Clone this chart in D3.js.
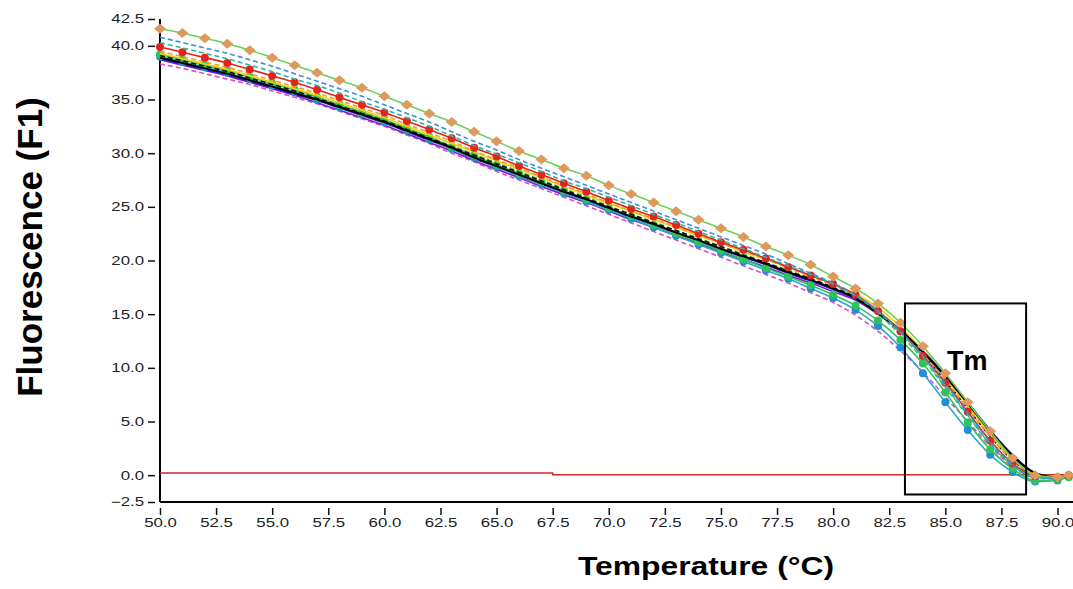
<!DOCTYPE html>
<meta charset="utf-8">
<script src="https://d3js.org/d3.v7.min.js"></script>
<style>
  body { margin: 0; background: #fff; }
  text { font-family: Arial, "Liberation Sans", sans-serif; }
</style>
<div id="chart"></div>
<script>

// temperatures (degC) where each melt curve was read
var temps = [50,51,52,53,54,55,56,57,58,59,60,61,62,63,64,65,66,67,68,69,70,
             71,72,73,74,75,76,77,78,79,80,81,82,83,84,85,86,87,88,89,90,90.5];

// fluorescence (F1) per sample
var orangeDiamonds = [41.6,41.2,40.7,40.2,39.6,38.9,38.2,37.5,36.8,36.1,35.3,34.5,33.7,32.9,32.0,31.1,30.2,29.4,28.6,27.9,
  27.0,26.2,25.4,24.6,23.8,23.0,22.2,21.3,20.5,19.6,18.5,17.4,16.0,14.2,12.0,9.5,6.8,4.1,1.6,0.0,-0.2,0.0];
var blueDashed = [40.8,40.3,39.8,39.3,38.7,38.1,37.4,36.7,36.0,35.3,34.5,33.7,32.9,32.0,31.1,30.3,29.4,28.6,27.8,27.0,
  26.2,25.4,24.6,23.8,23.0,22.2,21.4,20.6,19.7,18.8,17.9,16.8,15.3,13.4,11.1,8.5,5.8,3.1,1.0,-0.2,-0.3,-0.1];
var tealDashed = [40.3,39.8,39.3,38.8,38.2,37.6,36.9,36.3,35.6,34.8,34.1,33.3,32.5,31.6,30.7,29.9,29.1,28.3,27.4,26.7,
  25.9,25.1,24.3,23.5,22.7,21.9,21.1,20.3,19.5,18.7,17.8,16.7,15.2,13.3,11.0,8.3,5.6,2.9,0.9,-0.2,-0.3,0.0];
var redCircles = [39.9,39.4,38.9,38.4,37.8,37.2,36.6,35.9,35.2,34.5,33.8,33.0,32.2,31.4,30.5,29.7,28.8,28.0,27.2,26.4,
  25.6,24.8,24.1,23.3,22.5,21.7,21.0,20.2,19.4,18.6,17.8,16.8,15.3,13.4,11.1,8.6,5.9,3.2,1.1,-0.1,-0.2,0.0];
var orangeDashed = [39.5,39.0,38.5,38.0,37.4,36.8,36.2,35.6,34.9,34.2,33.5,32.7,31.9,31.1,30.2,29.4,28.6,27.8,27.0,26.2,
  25.4,24.6,23.9,23.1,22.4,21.6,20.9,20.1,19.3,18.5,17.7,16.7,15.3,13.5,11.3,8.8,6.2,3.6,1.4,0.0,-0.2,0.0];
var yellowSolid = [39.3,38.8,38.3,37.8,37.2,36.6,36.0,35.4,34.7,34.0,33.3,32.5,31.7,30.9,30.1,29.3,28.5,27.7,26.9,26.1,
  25.3,24.6,23.8,23.1,22.3,21.6,20.8,20.1,19.4,18.6,17.8,16.9,15.6,13.8,11.6,9.1,6.5,3.8,1.5,0.1,-0.2,0.0];
var greenDashed = [39.2,38.7,38.2,37.7,37.1,36.5,35.9,35.2,34.5,33.8,33.1,32.3,31.5,30.7,29.9,29.1,28.3,27.5,26.7,25.9,
  25.1,24.3,23.6,22.8,22.1,21.3,20.6,19.8,19.1,18.3,17.5,16.5,15.0,13.1,10.8,8.2,5.5,2.9,0.9,-0.3,-0.3,0.0];
var blackDashed = [39.1,38.6,38.1,37.6,37.0,36.4,35.8,35.1,34.4,33.7,33.0,32.2,31.4,30.6,29.8,29.0,28.2,27.4,26.6,25.8,
  25.0,24.3,23.5,22.8,22.0,21.3,20.5,19.8,19.0,18.3,17.5,16.6,15.2,13.4,11.2,8.8,6.2,3.6,1.4,0.0,-0.2,0.0];
var blackSolid = [38.9,38.4,37.9,37.4,36.8,36.2,35.6,35.0,34.3,33.6,32.9,32.1,31.3,30.5,29.6,28.8,28.0,27.2,26.4,25.7,
  24.9,24.1,23.4,22.6,21.9,21.1,20.4,19.7,18.9,18.2,17.4,16.5,15.1,13.5,11.5,9.2,6.7,4.1,1.8,0.2,-0.2,0.0];
var blueSolid = [38.8,38.3,37.8,37.3,36.7,36.1,35.5,34.9,34.2,33.5,32.8,32.0,31.2,30.4,29.5,28.7,27.9,27.1,26.3,25.6,
  24.8,24.0,23.3,22.5,21.8,21.0,20.3,19.6,18.8,18.1,17.3,16.4,15.0,13.4,11.4,9.1,6.6,4.0,1.7,0.1,-0.3,0.0];
var purpleSolid = [38.7,38.2,37.7,37.2,36.6,36.0,35.4,34.7,34.0,33.3,32.6,31.8,31.0,30.2,29.3,28.5,27.7,26.9,26.1,25.4,
  24.6,23.8,23.1,22.3,21.6,20.8,20.1,19.4,18.6,17.9,17.1,16.3,15.0,13.5,11.6,9.3,6.8,4.2,1.9,0.2,-0.3,0.0];
var magentaDashed = [38.3,37.9,37.4,36.9,36.4,35.8,35.2,34.6,33.9,33.2,32.5,31.7,30.9,30.0,29.2,28.3,27.5,26.7,25.9,25.1,
  24.3,23.5,22.7,21.9,21.1,20.3,19.5,18.7,17.9,17.0,16.1,14.9,13.4,11.6,9.6,7.3,5.0,2.7,0.8,-0.2,-0.3,0.0];
var blueCircles = [39.0,38.5,38.0,37.5,36.9,36.3,35.7,35.0,34.3,33.6,32.9,32.1,31.3,30.4,29.6,28.7,27.9,27.1,26.3,25.5,
  24.7,23.9,23.1,22.3,21.5,20.7,19.9,19.1,18.3,17.4,16.5,15.4,13.9,11.9,9.5,6.8,4.2,1.9,0.3,-0.6,-0.5,0.0];
var greenCircles = [39.2,38.7,38.2,37.7,37.1,36.5,35.9,35.2,34.5,33.8,33.1,32.3,31.5,30.6,29.8,28.9,28.1,27.3,26.5,25.7,
  24.9,24.1,23.3,22.5,21.7,20.9,20.1,19.3,18.5,17.7,16.8,15.8,14.4,12.6,10.4,7.7,4.9,2.4,0.6,-0.5,-0.4,-0.2];

// no-template control (red flat line)
var ntcTemps = [50, 67.5, 67.5, 90.7];
var ntcValues = [0.2, 0.2, 0.03, 0.03];

// Tm window drawn on the plot
var tmBoxTemps = [83.2, 88.6];
var tmBoxValues = [16.0, -1.8];

var xTickValues = [50,52.5,55,57.5,60,62.5,65,67.5,70,72.5,75,77.5,80,82.5,85,87.5,90];
var yTickValues = [-2.5,0,5,10,15,20,25,30,35,40,42.5];

// draw order: bottom first
var series = [
  {values: magentaDashed, color: "#d24fd2", dash: "5,3"},
  {values: purpleSolid,   color: "#7b1fc8"},
  {values: blueSolid,     color: "#1f1fd6"},
  {values: blueCircles,   color: "#2aa8c8", marker: "circle", fill: "#1f8fd8"},
  {values: greenCircles,  color: "#2fc35a", marker: "circle", fill: "#2fc35a"},
  {values: greenDashed,   color: "#3cc44a", dash: "5,3"},
  {values: blackDashed,   color: "#111111", dash: "5,3"},
  {values: yellowSolid,   color: "#f2d100"},
  {values: orangeDashed,  color: "#f0a030", dash: "5,3"},
  {values: blackSolid,    color: "#000000", width: 2},
  {values: redCircles,    color: "#e3241b", marker: "circle", fill: "#e3241b"},
  {values: tealDashed,    color: "#2bb5a5", dash: "5,3"},
  {values: blueDashed,    color: "#3b8fd4", dash: "5,3"},
  {values: orangeDiamonds, color: "#6ccf5a", marker: "diamond", fill: "#dd9a5c"}
];

var W = 1073, H = 589;
var svg = d3.select("#chart").append("svg")
    .attr("width", W).attr("height", H)
    .style("background", "#fff");

var x = d3.scaleLinear().domain([50, 90.69]).range([160, 1073]);
var y = d3.scaleLinear().domain([-2.5, 42.5]).range([502, 19]);

// stretch helper: the tick text in the picture is drawn wide
function widen(sel, k) {
  sel.each(function() {
    var len = this.getComputedTextLength();
    d3.select(this).attr("textLength", len * k).attr("lengthAdjust", "spacingAndGlyphs");
  });
}

// y axis
var gy = svg.append("g")
    .attr("transform", "translate(155,0)")
    .call(d3.axisLeft(y).tickValues(yTickValues).tickSize(7).tickPadding(4)
      .tickFormat(d3.format(".1f")));
gy.select(".domain").remove();
gy.selectAll("line").attr("stroke", "#111").attr("stroke-width", 1.5);
gy.selectAll("text").attr("font-size", 12).attr("fill", "#222")
    .attr("font-family", "Arial, 'Liberation Sans', sans-serif");
widen(gy.selectAll("text"), 1.4);

// x axis
var gx = svg.append("g")
    .attr("transform", "translate(0,508)")
    .call(d3.axisBottom(x).tickValues(xTickValues).tickSize(7).tickPadding(3)
      .tickFormat(d3.format(".1f")));
gx.select(".domain").remove();
gx.selectAll("line").attr("stroke", "#111").attr("stroke-width", 1.5);
gx.selectAll("text").attr("font-size", 12).attr("fill", "#222")
    .attr("font-family", "Arial, 'Liberation Sans', sans-serif");
widen(gx.selectAll("text"), 1.4);

// axis lines
svg.append("line").attr("x1", 160).attr("x2", 160).attr("y1", y(42.5)).attr("y2", y(-2.5))
    .attr("stroke", "#000").attr("stroke-width", 2);
svg.append("line").attr("x1", 160).attr("x2", W).attr("y1", y(-2.5)).attr("y2", y(-2.5))
    .attr("stroke", "#000").attr("stroke-width", 2);

// NTC line
var lineFlat = d3.line().x(function(d, i) { return x(ntcTemps[i]); }).y(function(d) { return y(d); });
svg.append("path").attr("d", lineFlat(ntcValues))
    .attr("fill", "none").attr("stroke", "#d02828").attr("stroke-width", 1.5);

// melt curves
var line = d3.line()
    .x(function(d, i) { return x(temps[i]); })
    .y(function(d) { return y(d); })
    .curve(d3.curveMonotoneX);

var plot = svg.append("g");
series.forEach(function(s) {
  plot.append("path")
    .attr("d", line(s.values))
    .attr("fill", "none")
    .attr("stroke", s.color)
    .attr("stroke-width", s.width || 1.6)
    .attr("stroke-dasharray", s.dash || null);

  if (s.marker == "circle") {
    plot.selectAll(null).data(s.values).enter().append("circle")
      .attr("cx", function(d, i) { return x(temps[i]); })
      .attr("cy", function(d) { return y(d); })
      .attr("r", 4)
      .attr("fill", s.fill);
  } else if (s.marker == "diamond") {
    plot.selectAll(null).data(s.values).enter().append("path")
      .attr("d", "M0,-5L6,0L0,5L-6,0Z")
      .attr("transform", function(d, i) { return "translate(" + x(temps[i]) + "," + y(d) + ")"; })
      .attr("fill", s.fill);
  }
});

// Tm box
svg.append("rect")
    .attr("x", x(tmBoxTemps[0]))
    .attr("y", y(tmBoxValues[0]))
    .attr("width", x(tmBoxTemps[1]) - x(tmBoxTemps[0]))
    .attr("height", y(tmBoxValues[1]) - y(tmBoxValues[0]))
    .attr("fill", "none").attr("stroke", "#000").attr("stroke-width", 2);
svg.append("text")
    .attr("x", x(tmBoxTemps[0]) + 42).attr("y", 370)
    .attr("font-size", 27).attr("font-weight", "bold")
    .text("Tm");

// axis titles
var xt = svg.append("text")
    .attr("x", 706).attr("y", 575)
    .attr("text-anchor", "middle")
    .attr("font-size", 25).attr("font-weight", "bold")
    .text("Temperature (°C)");
xt.attr("textLength", 256).attr("lengthAdjust", "spacingAndGlyphs");

svg.append("text")
    .attr("transform", "translate(42,247) rotate(-90)")
    .attr("text-anchor", "middle")
    .attr("font-size", 35).attr("font-weight", "bold")
    .text("Fluorescence (F1)");

</script>
